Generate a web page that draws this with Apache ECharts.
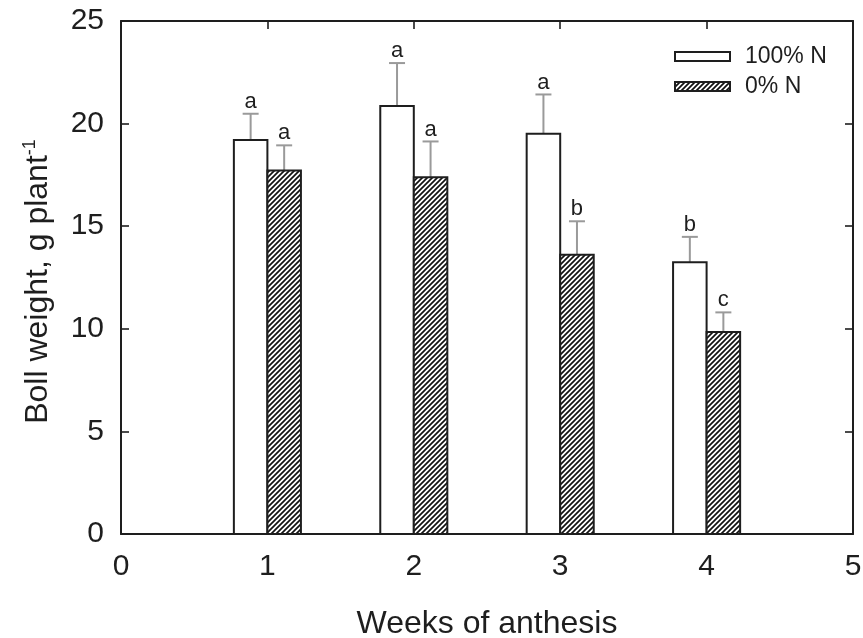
<!DOCTYPE html>
<html>
<head>
<meta charset="utf-8">
<script src="https://cdn.jsdelivr.net/npm/echarts@6/dist/echarts.min.js"></script>
<style>
  html, body { margin: 0; padding: 0; background: #fff; }
  #chart { width: 863px; height: 638px; }
</style>
</head>
<body>
<div id="chart"></div>
<script>
// Boll weight per plant by week of anthesis, two N treatments
const weeks = [1, 2, 3, 4];
const seriesNames = ['100% N', '0% N'];
const fullN = [19.2, 20.86, 19.51, 13.24];
const fullNErr = [1.28, 2.09, 1.91, 1.24];
const fullNLetters = ['a', 'a', 'a', 'b'];
const zeroN = [17.72, 17.38, 13.61, 9.85];
const zeroNErr = [1.22, 1.75, 1.63, 0.95];
const zeroNLetters = ['a', 'a', 'b', 'c'];
const xTicks = [0, 1, 2, 3, 4, 5];
const yTicks = [0, 5, 10, 15, 20, 25];

const FONT = '"Liberation Sans", Arial, sans-serif';
const INK = '#1e1e1e';

// diagonal "/" hatch tile
function hatchPattern() {
  const s = 5;
  const c = document.createElement('canvas');
  c.width = s; c.height = s;
  const g = c.getContext('2d');
  g.fillStyle = '#fff';
  g.fillRect(0, 0, s, s);
  g.strokeStyle = '#111';
  g.lineWidth = 1.7;
  g.beginPath();
  g.moveTo(-1, s + 1); g.lineTo(s + 1, -1);
  g.moveTo(-1, 1); g.lineTo(1, -1);
  g.moveTo(s - 1, s + 1); g.lineTo(s + 1, s - 1);
  g.stroke();
  return { image: c, repeat: 'repeat' };
}
const hatch = hatchPattern();

function makeData(vals, errs, letters) {
  return weeks.map((w, i) => [w, vals[i], errs[i], letters[i]]);
}

// side < 0: bar sits left of the week tick; side > 0: right of it
function barRenderer(side, fill, letters) {
  return function (params, api) {
    const x = api.value(0), v = api.value(1), e = api.value(2);
    const letter = letters[params.dataIndex];
    const w = api.size([0.229, 0])[0];
    const base = api.coord([x, 0]);
    const top = api.coord([x, v]);
    const errTop = api.coord([x, v + e]);
    const x0 = side < 0 ? base[0] - w : base[0];
    const cx = x0 + w / 2;
    const cap = 8;
    return {
      type: 'group',
      children: [
        {
          type: 'line',
          shape: { x1: cx, y1: top[1], x2: cx, y2: errTop[1] },
          style: { stroke: '#9a9a9a', lineWidth: 2 }
        },
        {
          type: 'line',
          shape: { x1: cx - cap, y1: errTop[1], x2: cx + cap, y2: errTop[1] },
          style: { stroke: '#9a9a9a', lineWidth: 2 }
        },
        {
          type: 'rect',
          shape: { x: x0, y: top[1], width: w, height: base[1] - top[1] },
          style: { fill: fill, stroke: INK, lineWidth: 2 }
        },
        {
          type: 'text',
          style: {
            text: letter, x: cx, y: errTop[1] - 1,
            align: 'center', verticalAlign: 'bottom',
            font: '22px ' + FONT, fill: INK
          }
        }
      ]
    };
  };
}

const chart = echarts.init(document.getElementById('chart'));
const axisLine = { show: true, onZero: false, lineStyle: { color: INK, width: 2 } };
const tickInside = { show: true, inside: true, length: 8, lineStyle: { color: INK, width: 1.6 } };

chart.setOption({
  animation: false,
  backgroundColor: '#fff',
  grid: { left: 121, right: 10, top: 21, bottom: 104, outerBoundsMode: 'none', containLabel: false },
  legend: {
    orient: 'vertical',
    left: 669,
    top: 40,
    itemWidth: 55,
    itemHeight: 9,
    itemGap: 7,
    icon: 'rect',
    data: seriesNames,
    textStyle: { fontFamily: FONT, fontSize: 23, color: INK, padding: [0, 0, 0, 10] }
  },
  xAxis: [
    {
      type: 'value', min: 0, max: 5, interval: 1,
      axisLine: axisLine, axisTick: tickInside, splitLine: { show: false },
      axisLabel: { margin: 18, fontFamily: FONT, fontSize: 30, color: INK,
        formatter: v => xTicks.includes(v) ? String(v) : '' },
      name: 'Weeks of anthesis', nameLocation: 'middle', nameGap: 74,
      nameTextStyle: { fontFamily: FONT, fontSize: 32, color: INK }
    },
    {
      type: 'value', position: 'top', min: 0, max: 5, interval: 1,
      axisLine: axisLine, axisTick: tickInside, axisLabel: { show: false }, splitLine: { show: false }
    }
  ],
  yAxis: [
    {
      type: 'value', min: 0, max: 25, interval: 5,
      axisLine: axisLine, axisTick: tickInside, splitLine: { show: false },
      axisLabel: { margin: 17, fontFamily: FONT, fontSize: 30, color: INK,
        formatter: v => yTicks.includes(v) ? String(v) : '' },
      name: '{n|Boll weight, g plant}{s|-1}', nameLocation: 'middle', nameGap: 66,
      nameTextStyle: {
        fontFamily: FONT, color: INK, padding: [0, 8, 0, 0],
        rich: {
          n: { fontFamily: FONT, fontSize: 32, color: INK },
          s: { fontFamily: FONT, fontSize: 18, color: INK, verticalAlign: 'top', padding: [0, 0, 16, 0] }
        }
      }
    },
    {
      type: 'value', position: 'right', min: 0, max: 25, interval: 5,
      axisLine: axisLine, axisTick: tickInside, axisLabel: { show: false }, splitLine: { show: false }
    }
  ],
  series: [
    {
      name: seriesNames[0], type: 'custom',
      itemStyle: { color: '#fff', borderColor: INK, borderWidth: 1.5 },
      renderItem: barRenderer(-1, '#fff', fullNLetters),
      encode: { x: 0, y: 1 },
      data: makeData(fullN, fullNErr, fullNLetters)
    },
    {
      name: seriesNames[1], type: 'custom',
      itemStyle: { color: hatch, borderColor: INK, borderWidth: 1.5 },
      renderItem: barRenderer(1, hatch, zeroNLetters),
      encode: { x: 0, y: 1 },
      data: makeData(zeroN, zeroNErr, zeroNLetters)
    }
  ]
});
</script>
</body>
</html>
